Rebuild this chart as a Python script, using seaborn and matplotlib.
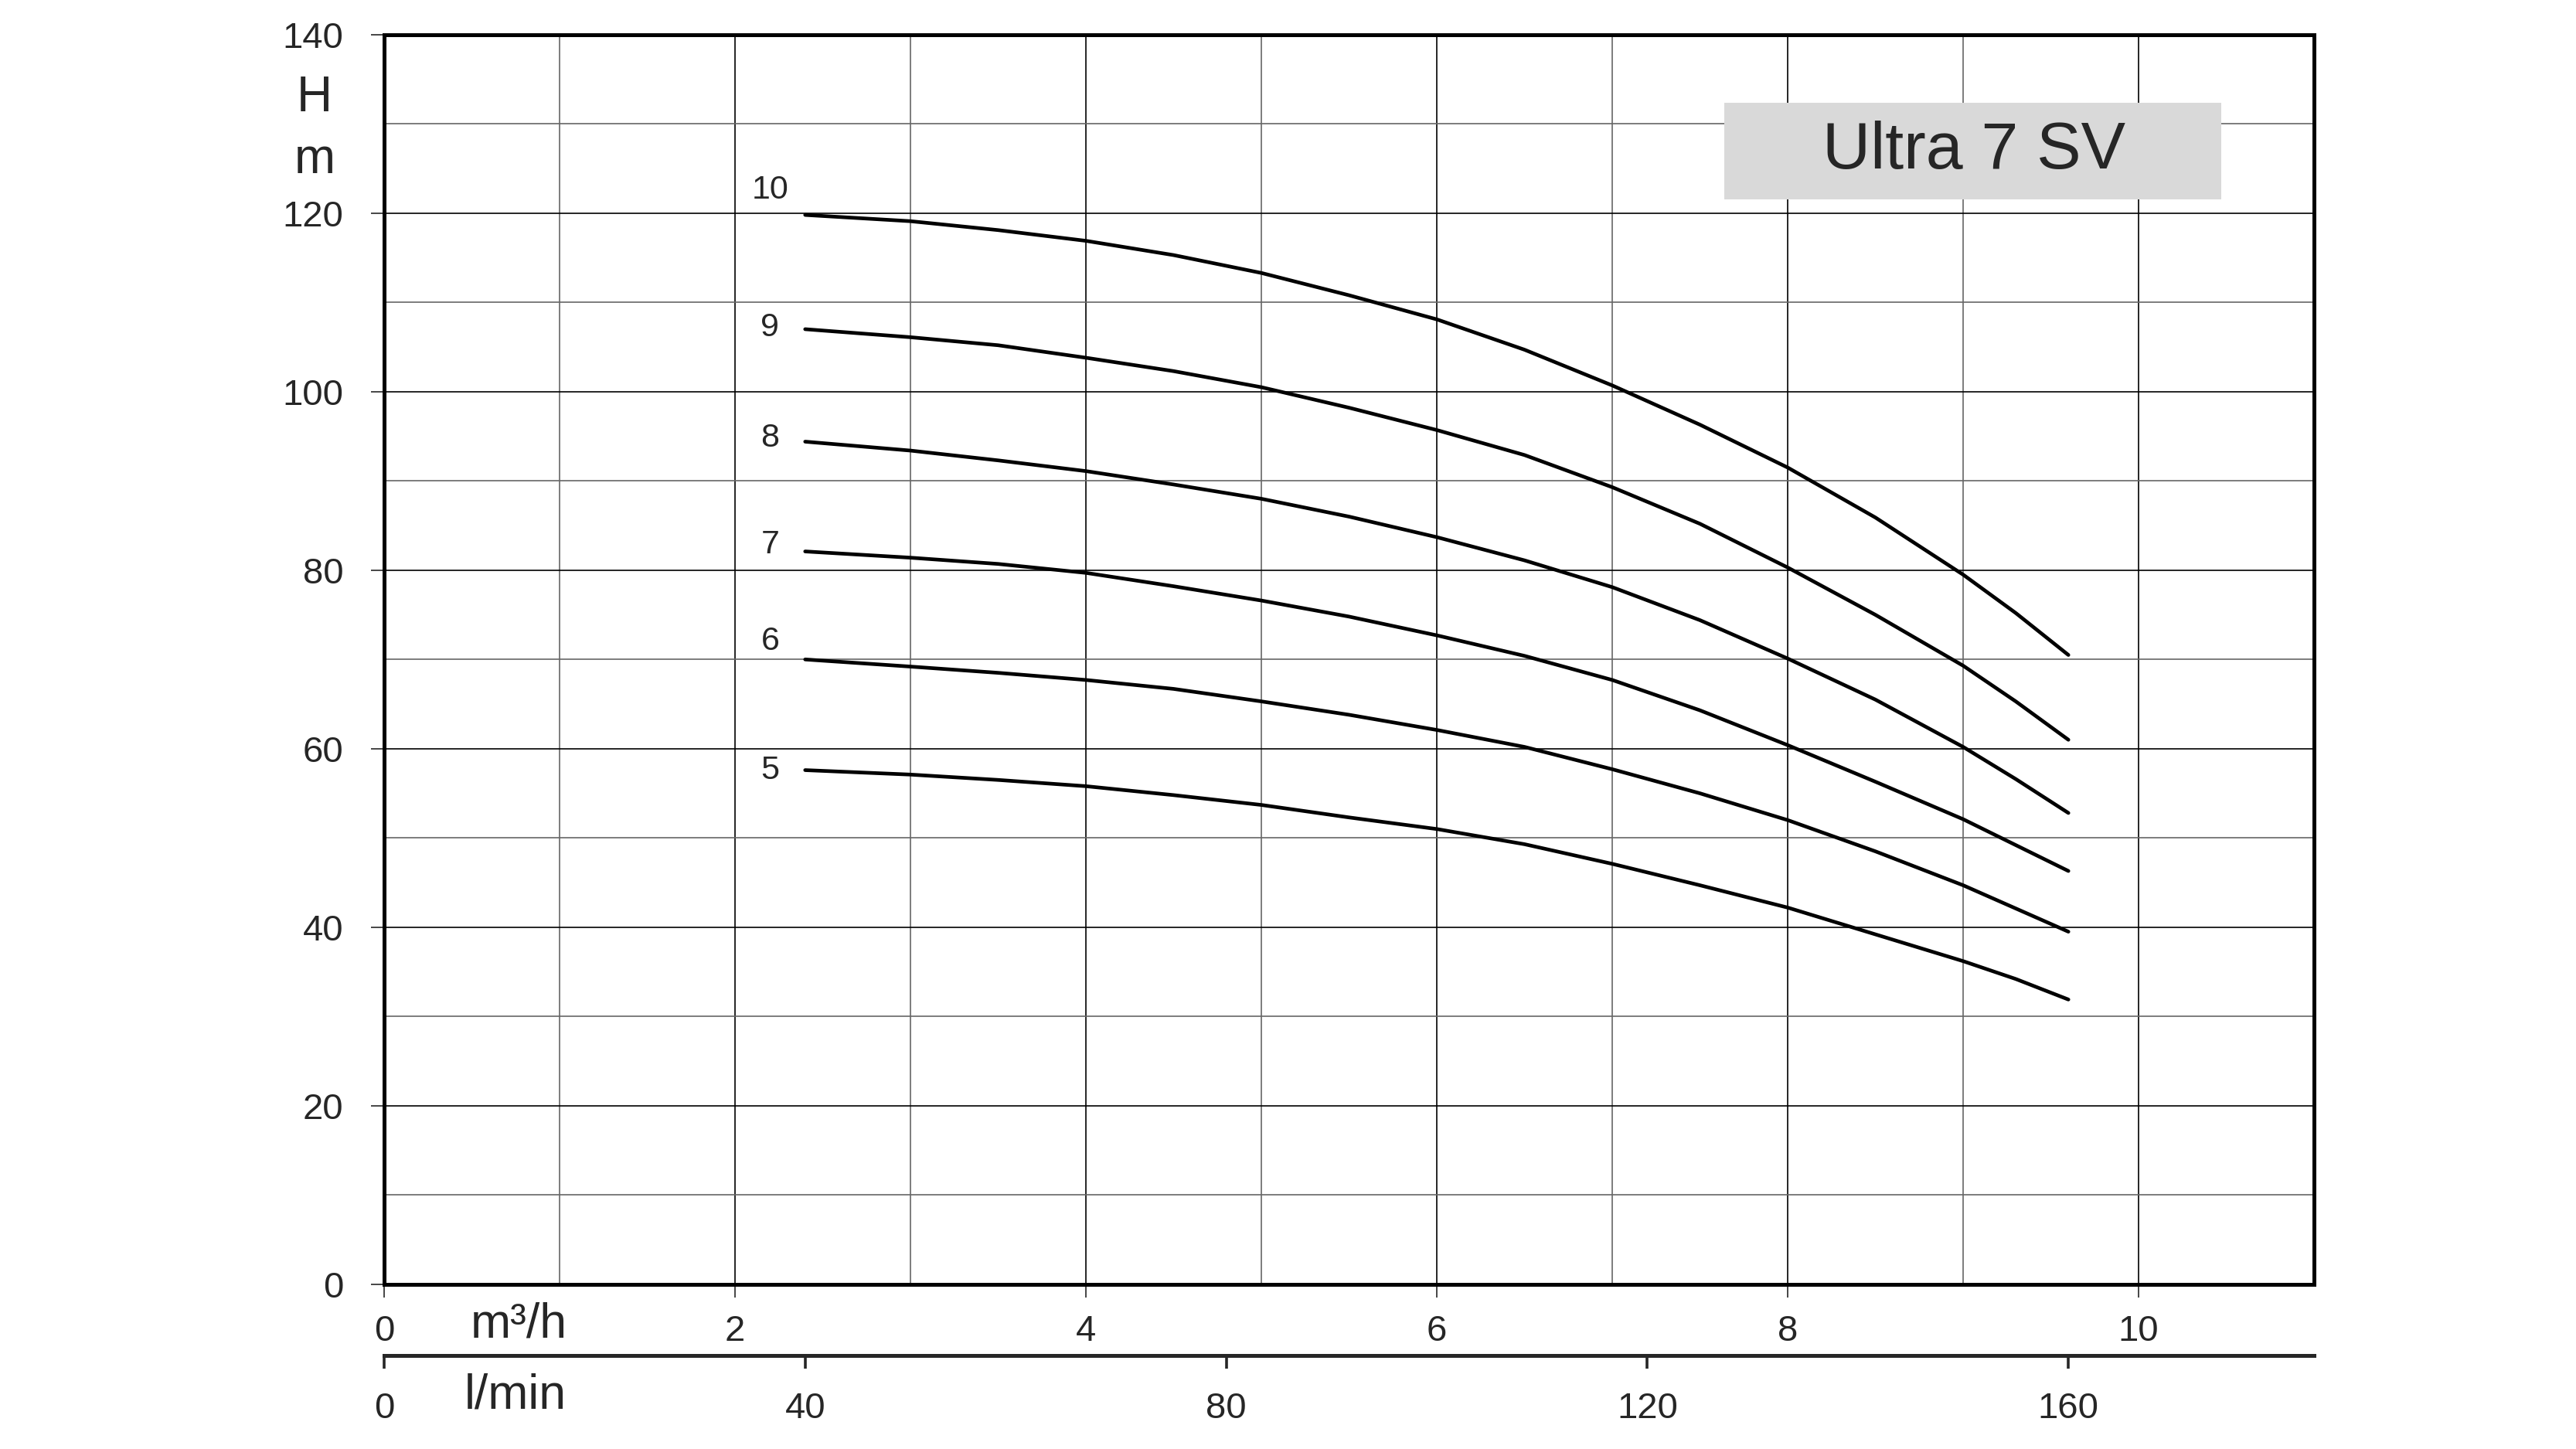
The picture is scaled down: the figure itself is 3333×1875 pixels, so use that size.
import seaborn as sns
import matplotlib.pyplot as plt
import matplotlib.ticker as mticker
from matplotlib.patches import Rectangle
import pandas as pd

# flow points (m3/h) and head per number of stages (m)
flow_m3h = [2.4, 3, 3.5, 4, 4.5, 5, 5.5, 6, 6.5, 7, 7.5, 8, 8.5, 9, 9.3, 9.6]
stages = ["10", "9", "8", "7", "6", "5"]
head_10 = [119.8, 119.1, 118.1, 116.9, 115.3, 113.3, 110.8, 108.1,
           104.7, 100.7, 96.3, 91.5, 85.9, 79.5, 75.2, 70.5]
head_9 = [107.0, 106.1, 105.2, 103.8, 102.3, 100.5, 98.2, 95.7,
          92.9, 89.3, 85.2, 80.3, 75.0, 69.3, 65.3, 61.0]
head_8 = [94.4, 93.4, 92.3, 91.1, 89.6, 88.0, 86.0, 83.7,
          81.1, 78.1, 74.4, 70.1, 65.5, 60.2, 56.6, 52.8]
head_7 = [82.1, 81.4, 80.7, 79.7, 78.2, 76.6, 74.8, 72.7,
          70.4, 67.7, 64.3, 60.4, 56.3, 52.1, 49.2, 46.3]
head_6 = [70.0, 69.2, 68.5, 67.7, 66.7, 65.3, 63.8, 62.1,
          60.2, 57.7, 55.0, 52.0, 48.5, 44.7, 42.1, 39.5]
head_5 = [57.6, 57.1, 56.5, 55.8, 54.8, 53.7, 52.3, 51.0,
          49.3, 47.1, 44.7, 42.2, 39.2, 36.2, 34.2, 31.9]
label_head = [122.6, 107.2, 94.8, 82.8, 72.0, 57.6]
lmin_ticks = [0, 40, 80, 120, 160]
title = "Ultra 7 SV"

heads = [head_10, head_9, head_8, head_7, head_6, head_5]
rows = []
for s, h in zip(stages, heads):
    for q, v in zip(flow_m3h, h):
        rows.append({"Q": q, "H": v, "stage": s})
df = pd.DataFrame(rows)

sns.set_style("white")
plt.rcParams["font.family"] = ["Liberation Sans", "DejaVu Sans"]

fig = plt.figure(figsize=(16.665, 9.375), dpi=200)
ax = fig.add_axes([0.1491, 0.1137, 0.7492, 0.8624])

sns.lineplot(data=df, x="Q", y="H", hue="stage", hue_order=stages,
             palette=["black"] * len(stages), linewidth=1.7, legend=False,
             ax=ax, zorder=5, sort=False)

ax.set_xlim(0, 11)
ax.set_ylim(0, 140)
ax.xaxis.set_major_locator(mticker.MultipleLocator(2))
ax.xaxis.set_minor_locator(mticker.MultipleLocator(1))
ax.yaxis.set_major_locator(mticker.MultipleLocator(20))
ax.yaxis.set_minor_locator(mticker.MultipleLocator(10))
ax.grid(which="major", color="black", linewidth=0.6, zorder=0)
ax.grid(which="minor", color="#666666", linewidth=0.6, zorder=0)
ax.set_axisbelow(True)
ax.set_xlabel("")
ax.set_ylabel("")

for sp in ax.spines.values():
    sp.set_visible(True)
    sp.set_color("black")
    sp.set_linewidth(1.8)

ax.tick_params(axis="x", which="major", direction="out", length=6, width=0.6,
               pad=8, labelsize=17, bottom=True)
ax.tick_params(axis="y", which="major", direction="out", length=6, width=0.6,
               pad=13, labelsize=17, left=True)
ax.tick_params(which="minor", length=0)

# second flow scale in l/min
sec = ax.secondary_xaxis(-0.057, functions=(lambda q: q * 1000 / 60,
                                            lambda l: l * 60 / 1000))
sec.set_xticks(lmin_ticks)
sec.spines["bottom"].set_linewidth(1.8)
sec.tick_params(direction="out", length=6, width=1.3, pad=11, labelsize=17)

# axis unit labels
ax.text(0.77, -0.032, "m³/h", transform=ax.get_xaxis_transform(),
        ha="center", va="center", fontsize=22.5)
ax.text(0.75, -0.089, "l/min", transform=ax.get_xaxis_transform(),
        ha="center", va="center", fontsize=22.5)
ax.text(-0.036, 0.949, "H", transform=ax.transAxes, ha="center", va="center",
        fontsize=23)
ax.text(-0.036, 0.900, "m", transform=ax.transAxes, ha="center", va="center",
        fontsize=23)

# stage labels at the start of each curve
for s, y in zip(stages, label_head):
    ax.text(2.2, y, s, ha="center", va="center", fontsize=15.5, zorder=6)

# title box
ax.add_patch(Rectangle((7.64, 121.5), 2.83, 10.9, facecolor="#d9d9d9",
                       edgecolor="none", zorder=3))
ax.text(9.06, 126.9, title, ha="center", va="center", fontsize=31, zorder=4)

fig.savefig("out.png", dpi=200)
